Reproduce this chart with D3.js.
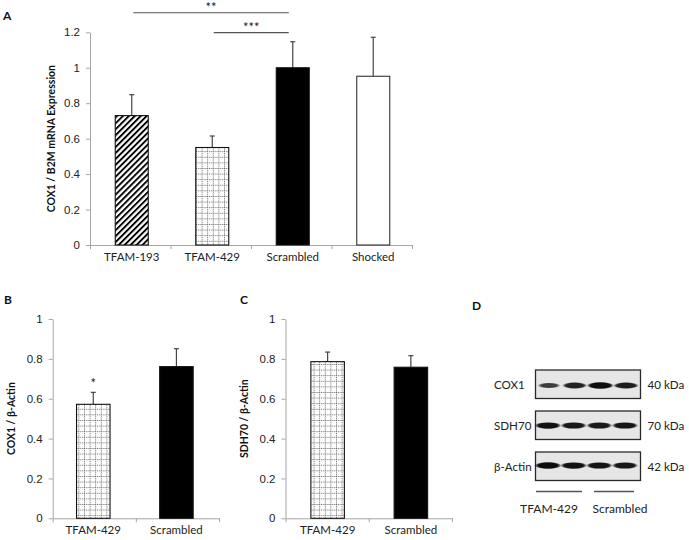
<!DOCTYPE html>
<html><head><meta charset="utf-8">
<script src="https://cdn.jsdelivr.net/npm/d3@7"></script>
<style>
html,body{margin:0;padding:0;background:#fff;}
svg{display:block;font-family:Lato,"Open Sans",sans-serif;}
</style></head>
<body>
<svg id="chart" width="689" height="540"></svg>
<script>
// ---------- DATA ----------
const catsA = ["TFAM-193","TFAM-429","Scrambled","Shocked"];
const valsA = [0.73,0.55,1.0,0.952];
const errA  = [0.118,0.065,0.147,0.22];
const ticksA = [0,0.2,0.4,0.6,0.8,1,1.2];
const fillsA = ["hatch","grid","black","white"];

const catsB = ["TFAM-429","Scrambled"];
const valsB = [0.572,0.761];
const errB  = [0.06,0.09];
const ticksBC = [0,0.2,0.4,0.6,0.8,1];

const catsC = ["TFAM-429","Scrambled"];
const valsC = [0.786,0.758];
const errC  = [0.048,0.058];
const fillsBC = ["grid","black"];

const blotRows = ["COX1","SDH70","β-Actin"];
const blotKda = ["40 kDa","70 kDa","42 kDa"];
const blotLanes = [1,2,3,4];
const cox1Intensity  = [0.55,0.8,1.0,0.85];
const sdh70Intensity = [0.95,0.9,0.88,0.92];
const actinIntensity = [1.0,0.95,0.93,0.9];
const blotGroups = ["TFAM-429","Scrambled"];

// ---------- SETUP ----------
const svg = d3.select("#chart");
const defs = svg.append("defs");

// diagonal hatch
const ph = defs.append("pattern").attr("id","hatch").attr("patternUnits","userSpaceOnUse")
  .attr("width",4.2).attr("height",4.2).attr("patternTransform","rotate(45)");
ph.append("rect").attr("width",4.2).attr("height",4.2).attr("fill","#fff");
ph.append("rect").attr("x",0).attr("y",0).attr("width",1.9).attr("height",4.2).attr("fill","#000");

// dotted grid
const pg = defs.append("pattern").attr("id","grid").attr("patternUnits","userSpaceOnUse")
  .attr("width",5.6).attr("height",5.6);
pg.append("rect").attr("width",5.6).attr("height",5.6).attr("fill","#fff");
pg.append("line").attr("x1",0.5).attr("x2",0.5).attr("y1",0).attr("y2",5.6)
  .attr("stroke","#555").attr("stroke-width",0.9).attr("stroke-dasharray","1,1");
pg.append("line").attr("x1",0).attr("x2",5.6).attr("y1",0.5).attr("y2",0.5)
  .attr("stroke","#555").attr("stroke-width",0.9).attr("stroke-dasharray","1,1");

const blur = defs.append("filter").attr("id","blur").attr("x","-30%").attr("y","-100%").attr("width","160%").attr("height","300%");
blur.append("feGaussianBlur").attr("stdDeviation","0.9 0.7");

function fillOf(f){ return f==="hatch"?"url(#hatch)":f==="grid"?"url(#grid)":f==="black"?"#000":"#fff"; }

function panel(opt){
  const g = svg.append("g");
  const y = d3.scaleLinear().domain([0,opt.ymax]).range([opt.y0,opt.y1]);
  const x = d3.scaleBand().domain(opt.cats).range([opt.x0,opt.x1]);
  const xl = d3.scaleLinear().domain([0,opt.cats.length]).range([opt.x0,opt.x1]);
  // y axis
  const ya = g.append("g").attr("transform",`translate(${opt.x0},0)`)
    .call(d3.axisLeft(y).tickValues(opt.ticks).tickSize(4).tickSizeOuter(0).tickPadding(6).tickFormat(d=>String(d)));
  ya.select(".domain").attr("stroke","#a6a6a6");
  ya.selectAll(".tick line").attr("stroke","#a6a6a6");
  ya.selectAll("text").attr("font-size",11.5).attr("fill","#222");
  // x axis
  const xa = g.append("g").attr("transform",`translate(0,${opt.y0})`)
    .call(d3.axisBottom(xl).tickValues(d3.range(opt.cats.length+1)).tickSize(4).tickSizeOuter(0).tickFormat(""));
  xa.select(".domain").attr("stroke","#a6a6a6");
  xa.selectAll(".tick line").attr("stroke","#a6a6a6");
  g.selectAll("text.xl").data(opt.cats).join("text").attr("class","xl")
    .attr("x",d=>x(d)+x.bandwidth()/2+opt.shift).attr("y",opt.y0+15.5)
    .attr("text-anchor","middle").attr("font-size",11.5).attr("fill","#222").text(d=>d);
  const bw = opt.bw;
  const cx = d=>x(d)+x.bandwidth()/2+opt.shift;
  // error bars
  g.selectAll("line.err").data(opt.cats).join("line").attr("class","err")
    .attr("x1",cx).attr("x2",cx).attr("y1",(d,i)=>y(opt.vals[i])).attr("y2",(d,i)=>y(opt.vals[i]+opt.errs[i]))
    .attr("stroke","#444").attr("stroke-width",1.2);
  g.selectAll("line.cap").data(opt.cats).join("line").attr("class","cap")
    .attr("x1",d=>cx(d)-2.5).attr("x2",d=>cx(d)+2.5).attr("y1",(d,i)=>y(opt.vals[i]+opt.errs[i])).attr("y2",(d,i)=>y(opt.vals[i]+opt.errs[i]))
    .attr("stroke","#444").attr("stroke-width",1.2);
  // bars
  g.selectAll("rect.bar").data(opt.cats).join("rect").attr("class","bar")
    .attr("x",d=>cx(d)-bw/2).attr("width",bw)
    .attr("y",(d,i)=>y(opt.vals[i])).attr("height",(d,i)=>opt.y0-y(opt.vals[i]))
    .attr("fill",(d,i)=>fillOf(opt.fills[i]))
    .attr("stroke",(d,i)=>opt.fills[i]==="white"?"#333":"#111").attr("stroke-width",1.1);
  // titles
  g.append("text").attr("transform",`translate(${opt.tx},${(opt.y0+opt.y1)/2}) rotate(-90)`)
    .attr("text-anchor","middle").attr("font-size",10.5).attr("font-weight","bold").attr("fill","#111").text(opt.title);
  g.append("text").attr("x",opt.lx).attr("y",opt.ly).attr("font-size",12).attr("font-weight","bold").attr("fill","#111").text(opt.label);
  return {x,y,cx,g};
}

// ---------- PANEL A ----------
const A = panel({cats:catsA,vals:valsA,errs:errA,fills:fillsA,ticks:ticksA,ymax:1.2,
  x0:90,x1:412,y0:245,y1:32.3,bw:33,shift:1.5,title:"COX1 / B2M mRNA Expression",tx:55,label:"A",lx:3,ly:20});
// significance
const sig = [{a:"TFAM-193",b:"Scrambled",lvl:1.31,txt:"**"},{a:"TFAM-429",b:"Scrambled",lvl:1.198,txt:"***"}];
sig.forEach(s=>{
  const xa = A.cx(s.a)+1.5, xb = A.cx(s.b)-4;
  A.g.append("line").attr("x1",xa).attr("x2",xb).attr("y1",A.y(s.lvl)).attr("y2",A.y(s.lvl)).attr("stroke","#555").attr("stroke-width",1.1);
  A.g.append("text").attr("x",(xa+xb)/2).attr("y",A.y(s.lvl)-0.5).attr("text-anchor","middle").attr("font-size",13).attr("fill","#222").text(s.txt);
});

// ---------- PANEL B ----------
const B = panel({cats:catsB,vals:valsB,errs:errB,fills:fillsBC,ticks:ticksBC,ymax:1,
  x0:52.7,x1:219,y0:518.3,y1:319,bw:33.5,shift:-1,title:"COX1 / β-Actin",tx:15,label:"B",lx:4,ly:303.5});
B.g.append("text").attr("x",B.cx("TFAM-429")).attr("y",B.y(valsB[0]+errB[0])-4).attr("text-anchor","middle").attr("font-size",13).attr("fill","#222").text("*");

// ---------- PANEL C ----------
const C = panel({cats:catsC,vals:valsC,errs:errC,fills:fillsBC,ticks:ticksBC,ymax:1,
  x0:285.5,x1:452,y0:518.3,y1:319,bw:33.5,shift:0.5,title:"SDH70 / β-Actin",tx:248,label:"C",lx:240,ly:303.5});

// ---------- PANEL D (blot) ----------
const D = svg.append("g");
D.append("text").attr("x",472).attr("y",309.5).attr("font-size",12).attr("font-weight","bold").attr("fill","#111").text("D");
const rowY = d3.scalePoint().domain(blotRows).range([384,466]);
const laneX = d3.scalePoint().domain(blotLanes).range([548,625]);
const intens = [cox1Intensity,sdh70Intensity,actinIntensity];
blotRows.forEach((r,ri)=>{
  const cy = rowY(r);
  D.append("rect").attr("x",535.5).attr("y",cy-14).attr("width",105).attr("height",28.5)
    .attr("fill","#e6e6e6").attr("stroke","#2a2a2a").attr("stroke-width",1.3);
  blotLanes.forEach((l,li)=>{
    const v = intens[ri][li];
    D.append("ellipse").attr("cx",laneX(l)+(ri===0?1:0)).attr("cy",cy+(ri===0?1.5:ri===1?0.5:-0.5))
      .attr("rx",7+5*v).attr("ry",1.7+1.5*v)
      .attr("fill","#0a0a0a").attr("opacity",0.5+0.5*v).attr("filter","url(#blur)");
  });
  D.append("text").attr("x",494).attr("y",cy+4.5).attr("font-size",11.6).attr("fill","#222").text(r);
  D.append("text").attr("x",647.5).attr("y",cy+4.5).attr("font-size",11.6).attr("fill","#222").text(blotKda[ri]);
});
D.selectAll("line.grp").data(blotGroups).join("line").attr("class","grp")
  .attr("x1",(d,i)=>i===0?536:594).attr("x2",(d,i)=>i===0?582:634)
  .attr("y1",491.5).attr("y2",491.5).attr("stroke","#555").attr("stroke-width",1.6);
D.selectAll("text.grp").data(blotGroups).join("text").attr("class","grp")
  .attr("x",(d,i)=>i===0?549:620).attr("y",512.5).attr("text-anchor","middle")
  .attr("font-size",12).attr("fill","#222").text(d=>d);
</script>
</body></html>
